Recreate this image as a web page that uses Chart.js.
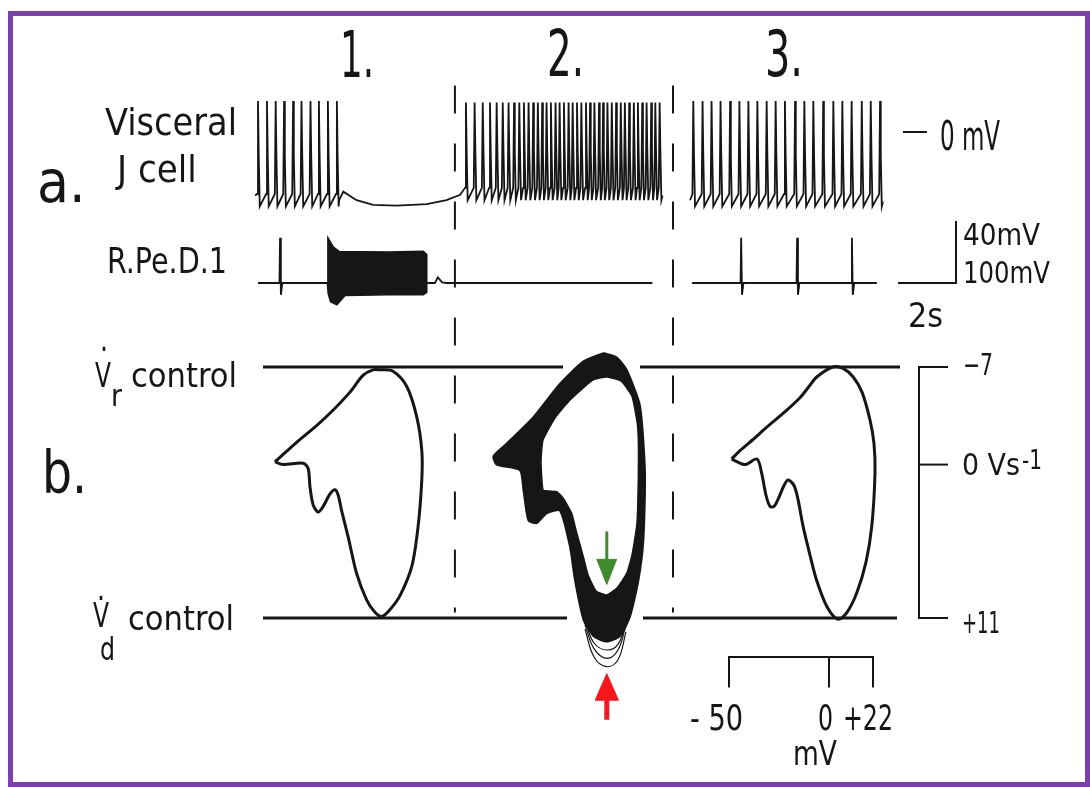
<!DOCTYPE html>
<html>
<head>
<meta charset="utf-8">
<script src="https://cdn.jsdelivr.net/npm/chart.js@4.4.1/dist/chart.umd.min.js"></script>
<style>
  html, body { margin: 0; padding: 0; background: #fff; }
  #wrap { position: relative; width: 1090px; height: 787px; }
  #frame { position: absolute; left: 8px; top: 11px; width: 1072px; height: 766px;
           border: 5px solid #7b3fae; pointer-events: none; }
</style>
</head>
<body>
<div id="wrap">
  <canvas id="fig" width="1090" height="787"></canvas>
  <div id="frame"></div>
</div>
<script>
// --- a. spike trains (time in s, J cell in mV) ---
var sweep1Spikes = [0, 0.31, 0.61, 0.9, 1.21, 1.5, 1.81, 2.1, 2.41, 2.72];
var hyperT = [2.8, 2.94, 3.4, 3.97, 4.78, 5.82, 6.5, 6.97];
var hyperV = [-44, -38.5, -44, -47, -47.5, -46.5, -44, -40.5];
var sweep2Spikes = [7.17, 7.47, 7.75, 8.0, 8.23, 8.44, 8.64, 8.83, 9.01, 9.17, 9.33, 9.49, 9.65,
  9.8, 9.95, 10.1, 10.26, 10.4, 10.55, 10.71, 10.85, 11.0, 11.15, 11.31, 11.45, 11.6, 11.76,
  11.9, 12.05, 12.2, 12.35, 12.51, 12.65, 12.8, 12.96, 13.1, 13.25, 13.4, 13.56, 13.7, 13.85];
var sweep3Spikes = [15.01, 15.33, 15.64, 15.95, 16.28, 16.6, 16.91, 17.22, 17.54, 17.85, 18.17,
  18.52, 18.84, 19.15, 19.49, 19.84, 20.15, 20.47, 20.82, 21.13, 21.45];
var spikeDt = [-0.03, 0, 0.025, 0.06];
var spikeV13 = [-40, 20, -15, -48];
var spikeV2 = [-36, 19, -12, -44];

// R.Pe.D.1 (mV above rest)
var rpSpikes12 = [0.76];
var rpSpikes3 = [16.66, 18.59, 20.48];
var rpDt = [-0.02, 0, 0.03, 0.08];
var rpV = [0, 73, -19, 0];
var burstT = [2.39, 2.41, 2.6, 2.8, 4.5, 5.7, 5.82, 5.82, 5.7, 4.5, 3.0, 2.72, 2.5, 2.42, 2.39];
var burstV = [0, 73, 58, 51, 50, 51, 46, -15, -19, -19, -20, -35, -30, -17, 0];
var afterBurstT = [5.83, 6.1, 6.2, 6.35, 6.5];
var afterBurstV = [0, 0, 9, 1, 0];

// --- b. phase plane loops (mV, V/s) ---
var loop1V = [-50, -45.9, -35.9, -33.4, -32.5, -30.9, -28.4, -25.9, -22.5, -20, -18.4, -16.7, -13.4,
  -9.2, -4.2, 0, 3.4, 7.5, 12.5, 18.4, 21.5, 23.4, 23.4, 20.9, 15.9, 9, 2.5, -1, -6, -12.5, -21,
  -29.2, -39.2, -50];
var loop1D = [-0.2, 0, -0.1, 0.3, 1.6, 2.9, 3.4, 3.0, 2.1, 1.8, 2.2, 3.3, 5.2, 7.8, 9.7, 10.6, 10.9,
  10.4, 9.4, 7.3, 4.5, 1.1, -1.0, -3.4, -5.6, -6.7, -6.8, -6.8, -6.4, -5.2, -3.9, -2.8, -1.6, -0.2];
var loop3V = [-48.7, -42, -36, -33.7, -31.5, -29.5, -27.5, -25.5, -22.5, -20.5, -17.5, -15.5, -13,
  -9.5, -6.2, -1, 4.5, 9, 13.9, 18.5, 21.4, 23, 22.5, 20.5, 16.5, 12, 7, 2, -6, -10, -14.5, -22,
  -31, -38, -44.5, -48.7];
var loop3D = [-0.4, 0, -0.4, 0.6, 2.2, 3.0, 3.0, 2.5, 1.5, 1.1, 1.5, 2.5, 4.4, 6.5, 8.3, 10.2, 11.1,
  10.6, 9.2, 7, 4.4, 0.6, -1.5, -3.2, -5.2, -6.3, -6.9, -7.0, -6.3, -5.6, -4.8, -3.8, -2.7, -1.8,
  -1.0, -0.4];
var loop2OuterV = [4.7, 11.3, 16.3, 23, 25.5, 24.7, 22.2, 18, 13, 6.3, -0.3, -5.3, -9.5, -12, -17,
  -23.7, -28.7, -32.8, -35.3, -37, -48.7, -50.3, -43.7, -30.3, -17, -5.3, 4.7];
var loop2OuterD = [-8.0, -7.7, -6.8, -4.2, 0.6, 5.4, 8.3, 10.9, 12.3, 12.7, 12.3, 11.1, 8.3, 5.9, 3.3,
  3.5, 4.2, 4.0, 1.8, 0.4, 0, -0.6, -1.5, -3.4, -5.8, -7.4, -8.0];
var loop2InnerV = [6.35, 13.5, 19, 21.75, 22.25, 21.5, 19, 16.35, 11.5, 6.35, 1, -3, -5.35, -9,
  -11.15, -15.5, -18.65, -22.5, -25.5, -26.5, -25.5, -19.5, -12, -0.5, 6.35];
var loop2InnerD = [-6.3, -6.0, -4.9, -2.84, -0.55, 4.19, 6.5, 7.8, 8.85, 9.35, 9.07, 7.9, 6.6, 4.7,
  3.5, 2.4, 1.94, 1.9, 1.82, -0.19, -1.76, -3.34, -4.63, -6.07, -6.3];
var fringeV = [-4.5, 0, 6.3, 12, 16];
var fringeD1 = [11.2, 12.8, 13.3, 12.9, 11.3];
var fringeD2 = [11.5, 13.2, 13.9, 13.3, 11.5];
var fringeD3 = [11.8, 13.8, 14.5, 14.0, 12.0];
var greenShaftD = [4.8, 7.0];
var greenHeadV = [1.4, 11.3, 6.4, 1.4];
var greenHeadD = [6.8, 6.8, 8.6, 6.8];
var redShaftD = [16.8, 18.3];
var redHeadV = [0.6, 12.2, 6.4, 0.6];
var redHeadD = [16.9, 16.9, 15.0, 16.9];
var arrowV = 6.4;
var controlLevels = [-7, 11];     // Vr control, Vd control (V/s)
var vsTicks = [-7, 0, 11];
var mvTicks = [-50, 0, 22];

var INK = '#161616';
var FONT = '"Liberation Sans Narrow", "DejaVu Sans Condensed", "DejaVu Sans", sans-serif';

function pts(xs, ys) {
  return xs.map(function (x, i) { return { x: x, y: ys[i] }; });
}

function spikeTrace(times, shapeDt, shapeV, out) {
  times.forEach(function (t) {
    shapeDt.forEach(function (d, k) { out.push({ x: t + d, y: shapeV[k] }); });
  });
  return out;
}

// J cell, sweeps 1+2 run on from one another
var jTrace12 = [{ x: -0.1, y: -41 }];
spikeTrace(sweep1Spikes, spikeDt, spikeV13, jTrace12);
jTrace12 = jTrace12.concat(pts(hyperT, hyperV));
spikeTrace(sweep2Spikes, spikeDt, spikeV2, jTrace12);
jTrace12.push({ x: 13.95, y: -41 });

var jTrace3 = [{ x: 14.9, y: -44 }];
spikeTrace(sweep3Spikes, spikeDt, spikeV13, jTrace3);
jTrace3.push({ x: 21.55, y: -45 });

var rpTrace12 = [{ x: 0, y: 0 }];
spikeTrace(rpSpikes12, rpDt, rpV, rpTrace12);
rpTrace12.push({ x: 2.39, y: 0 });
rpTrace12 = rpTrace12.concat(pts(afterBurstT, afterBurstV));
rpTrace12.push({ x: 13.6, y: 0 });

var rpTrace3 = [{ x: 14.97, y: 0 }];
spikeTrace(rpSpikes3, rpDt, rpV, rpTrace3);
rpTrace3.push({ x: 21.34, y: 0 });

function ds(data, xa, ya, extra) {
  return Object.assign({
    data: data, xAxisID: xa, yAxisID: ya, showLine: true, pointRadius: 0,
    borderColor: INK, borderWidth: 2, fill: false, tension: 0, order: 0
  }, extra || {});
}

var datasets = [
  // panel a
  ds(jTrace12, 'xt', 'yj', { borderWidth: 1.8 }),
  ds(jTrace3, 'xt', 'yj', { borderWidth: 1.8 }),
  ds(rpTrace12, 'xt', 'yr', { borderWidth: 1.8 }),
  ds(rpTrace3, 'xt', 'yr', { borderWidth: 1.8 }),
  ds(pts(burstT, burstV), 'xt', 'yr', { fill: 'shape', backgroundColor: INK, borderWidth: 1.5 }),
  ds(pts([22.24, 23.07], [0, 0]), 'xt', 'yj', { borderWidth: 2 }),
  ds(pts([22.07, 24.07, 24.07], [0, 0, 100]), 'xt', 'yr', { borderWidth: 2 }),
  // dashed separators
  ds(pts([6.79, 6.79], [30, -310]), 'xt', 'yj', { borderWidth: 2, borderDash: [28, 30] }),
  ds(pts([14.31, 14.31], [30, -310]), 'xt', 'yj', { borderWidth: 2, borderDash: [28, 30] }),
  // control levels
  ds(pts([-56, 94], [controlLevels[0], controlLevels[0]]), 'x1', 'yb', { borderWidth: 3 }),
  ds(pts([132.5, 262.5], [controlLevels[0], controlLevels[0]]), 'x1', 'yb', { borderWidth: 3 }),
  ds(pts([-56, 96], [controlLevels[1], controlLevels[1]]), 'x1', 'yb', { borderWidth: 3 }),
  ds(pts([134, 261], [controlLevels[1], controlLevels[1]]), 'x1', 'yb', { borderWidth: 3 }),
  // V/s scale bar
  ds(pts([59.5, 45, 45, 59.5], [vsTicks[0], vsTicks[0], vsTicks[2], vsTicks[2]]), 'x3', 'yb', { borderWidth: 2 }),
  ds(pts([45, 59.5], [vsTicks[1], vsTicks[1]]), 'x3', 'yb', { borderWidth: 2 }),
  // mV scale bar
  ds(pts([mvTicks[0], mvTicks[0], mvTicks[2], mvTicks[2]], [16, 13.8, 13.8, 16]), 'x3', 'yb', { borderWidth: 2 }),
  ds(pts([mvTicks[1], mvTicks[1]], [13.8, 16]), 'x3', 'yb', { borderWidth: 2 }),
  // loops
  ds(pts(loop1V, loop1D), 'x1', 'yb', { borderWidth: 3, tension: 0.3 }),
  ds(pts(loop3V, loop3D), 'x3', 'yb', { borderWidth: 3, tension: 0.3 }),
  // loop 2: thick band of superimposed cycles
  ds(pts(loop2OuterV, loop2OuterD), 'x2', 'yb', { fill: 'shape', backgroundColor: INK, borderWidth: 2, tension: 0.2, order: 6 }),
  ds(pts(loop2InnerV, loop2InnerD), 'x2', 'yb', { fill: 'shape', backgroundColor: '#fff', borderWidth: 1.5, tension: 0.15, order: 5 }),
  ds(pts(fringeV, fringeD1), 'x2', 'yb', { borderWidth: 1.2, tension: 0.4, order: 4 }),
  ds(pts(fringeV, fringeD2), 'x2', 'yb', { borderWidth: 1.2, tension: 0.4, order: 4 }),
  ds(pts(fringeV, fringeD3), 'x2', 'yb', { borderWidth: 1.2, tension: 0.4, order: 4 }),
  // arrows
  ds(pts([arrowV, arrowV], greenShaftD), 'x2', 'yb', { borderColor: '#3f8a2c', borderWidth: 3, order: 1 }),
  ds(pts(greenHeadV, greenHeadD), 'x2', 'yb', { borderColor: '#3f8a2c', backgroundColor: '#3f8a2c', fill: 'shape', borderWidth: 1, order: 1 }),
  ds(pts([arrowV, arrowV], redShaftD), 'x2', 'yb', { borderColor: '#f4171b', borderWidth: 5, order: 1 }),
  ds(pts(redHeadV, redHeadD), 'x2', 'yb', { borderColor: '#f4171b', backgroundColor: '#f4171b', fill: 'shape', borderWidth: 1, order: 1 })
];

var labels = [
  { t: '1.', x: 340, y: 77, s: 64, w: 34 },
  { t: '2.', x: 547, y: 76, s: 64, w: 37 },
  { t: '3.', x: 765, y: 76, s: 64, w: 38 },
  { t: 'Visceral', x: 105, y: 135, s: 38, w: 132 },
  { t: 'J cell', x: 117, y: 182, s: 38, w: 80 },
  { t: 'a.', x: 37, y: 202, s: 58, w: 52 },
  { t: 'R.Pe.D.1', x: 107, y: 273, s: 36, w: 120 },
  { t: '0 mV', x: 940, y: 150, s: 40, w: 60 },
  { t: '40mV', x: 963, y: 245, s: 30, w: 77 },
  { t: '100mV', x: 963, y: 283, s: 30, w: 87 },
  { t: '2s', x: 908, y: 327, s: 34, w: 35 },
  { t: 'b.', x: 42, y: 493, s: 58, w: 45 },
  { t: 'V', x: 95, y: 387, s: 34, w: 16 },
  { t: '.', x: 100, y: 351, s: 34, w: 8 },
  { t: 'r', x: 111, y: 406, s: 30, w: 11 },
  { t: 'control', x: 131, y: 387, s: 34, w: 111 },
  { t: 'V', x: 93, y: 627, s: 34, w: 16 },
  { t: '.', x: 97, y: 600, s: 34, w: 8 },
  { t: 'd', x: 100, y: 660, s: 32, w: 15 },
  { t: 'control', x: 128, y: 630, s: 34, w: 112 },
  { t: '−7', x: 963, y: 375, s: 30, w: 30 },
  { t: '0 Vs', x: 962, y: 475, s: 30, w: 58 },
  { t: '-1', x: 1022, y: 469, s: 26, w: 20 },
  { t: '+11', x: 962, y: 633, s: 30, w: 38 },
  { t: '- 50', x: 690, y: 730, s: 36, w: 53 },
  { t: '0', x: 818, y: 730, s: 36, w: 15 },
  { t: '+22', x: 843, y: 730, s: 36, w: 50 },
  { t: 'mV', x: 793, y: 765, s: 34, w: 44 }
];

var figText = {
  id: 'figText',
  afterDraw: function (chart) {
    var ctx = chart.ctx;
    ctx.save();
    ctx.fillStyle = INK;
    ctx.textAlign = 'left';
    ctx.textBaseline = 'alphabetic';
    labels.forEach(function (l) {
      ctx.font = l.s + 'px ' + FONT;
      ctx.fillText(l.t, l.x, l.y, l.w);
    });
    ctx.restore();
  }
};

function axis(min, max, extra) {
  return Object.assign({ type: 'linear', display: false, min: min, max: max }, extra || {});
}

new Chart(document.getElementById('fig').getContext('2d'), {
  type: 'scatter',
  data: { datasets: datasets },
  options: {
    responsive: false,
    devicePixelRatio: 1,
    animation: false,
    events: [],
    layout: { padding: 0 },
    plugins: { legend: { display: false }, tooltip: { enabled: false } },
    scales: {
      xt: axis(-8.8966, 28.690, { axis: 'x', position: 'bottom' }),
      x1: axis(-187.5, 357.5, { axis: 'x', position: 'bottom' }),
      x2: axis(-297, 248, { axis: 'x', position: 'bottom' }),
      x3: axis(-414.5, 130.5, { axis: 'x', position: 'bottom' }),
      yj: axis(-422.6, 85.16, { axis: 'y', position: 'left' }),
      yr: axis(-812.9, 456.45, { axis: 'y', position: 'left' }),
      yb: axis(-33.33, 23.13, { axis: 'y', position: 'left', reverse: true })
    }
  },
  plugins: [figText]
});
</script>
</body>
</html>
